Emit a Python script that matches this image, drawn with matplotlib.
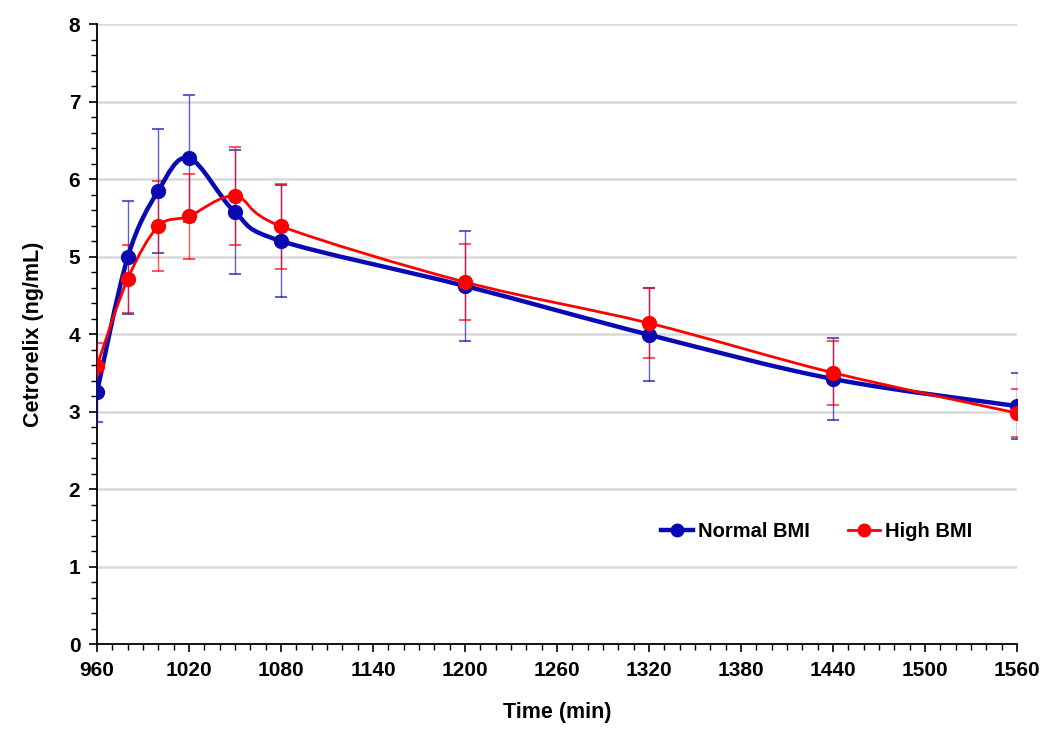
import numpy as np
import matplotlib
matplotlib.use("Agg")
import matplotlib.pyplot as plt
from matplotlib.path import Path
from matplotlib.patches import PathPatch
from matplotlib.lines import Line2D
from matplotlib.ticker import MultipleLocator

plt.rcParams['font.family'] = ['Liberation Sans', 'DejaVu Sans']

time = [960, 980, 1000, 1020, 1050, 1080, 1200, 1320, 1440, 1560]
normal_bmi = [3.25, 4.99, 5.85, 6.27, 5.57, 5.20, 4.62, 3.99, 3.42, 3.07]
normal_err = [0.39, 0.73, 0.80, 0.82, 0.80, 0.72, 0.71, 0.60, 0.53, 0.43]
high_bmi = [3.59, 4.71, 5.39, 5.52, 5.78, 5.39, 4.67, 4.14, 3.50, 2.98]
high_err = [0.29, 0.44, 0.58, 0.55, 0.63, 0.55, 0.49, 0.45, 0.41, 0.31]

BLUE = '#0a0ab4'
RED = '#ff0000'


def smooth_path(x, y):
    # Catmull-Rom as cubic Bezier segments (like Excel's "smoothed line")
    p = np.column_stack([x, y]).astype(float)
    verts = [p[0]]
    codes = [Path.MOVETO]
    n = len(p)
    for i in range(n - 1):
        p0 = p[i - 1] if i > 0 else p[i]
        p1, p2 = p[i], p[i + 1]
        p3 = p[i + 2] if i + 2 < n else p[i + 1]
        c1 = p1 + (p2 - p0) / 6.0
        c2 = p2 - (p3 - p1) / 6.0
        verts += [c1, c2, p2]
        codes += [Path.CURVE4] * 3
    return Path(verts, codes)


fig = plt.figure(figsize=(10.5, 7.3), dpi=100)
ax = fig.add_axes([0.0924, 0.1178, 0.8762, 0.8493])

series = [(normal_bmi, normal_err, BLUE, 3.2, 'Normal BMI'),
          (high_bmi, high_err, RED, 2.0, 'High BMI')]
handles = []
for vals, err, col, lw, lab in series:
    ax.errorbar(time, vals, yerr=err, fmt='none', ecolor=col, elinewidth=1.0,
                capsize=4, capthick=1.5, alpha=0.65, zorder=3)
    ax.add_patch(PathPatch(smooth_path(time, vals), facecolor='none',
                           edgecolor=col, lw=lw, zorder=4))
    ax.plot(time, vals, 'o', color=col, markersize=10, zorder=5)
    handles.append(Line2D([], [], color=col, lw=lw, marker='o',
                          markersize=9, label=lab))

ax.set_xlim(960, 1560)
ax.set_ylim(0, 8)
ax.xaxis.set_major_locator(MultipleLocator(60))
ax.xaxis.set_minor_locator(MultipleLocator(10))
ax.yaxis.set_major_locator(MultipleLocator(1))
ax.yaxis.set_minor_locator(MultipleLocator(0.2))
ax.grid(axis='y', color='#d9d9d9', lw=1.8, zorder=0)
ax.set_axisbelow(True)

for s in ['top', 'right']:
    ax.spines[s].set_visible(False)
for s in ['left', 'bottom']:
    ax.spines[s].set_linewidth(1.3)

ax.tick_params(which='major', direction='out', length=6, width=1.2,
               labelsize=15, pad=6)
ax.tick_params(which='minor', direction='out', length=4, width=1.0)
for lbl in ax.get_xticklabels() + ax.get_yticklabels():
    lbl.set_fontweight('bold')

ax.set_xlabel('Time (min)', fontsize=15.5, fontweight='bold', labelpad=16)
ax.set_ylabel('Cetrorelix (ng/mL)', fontsize=15.5, fontweight='bold', labelpad=18)

ax.legend(handles=handles, loc='center', bbox_to_anchor=(0.782, 0.182),
          ncol=2, frameon=False, handlelength=1.6, handletextpad=0.25,
          columnspacing=1.9, prop={'weight': 'bold', 'size': 14.5})

fig.savefig('out.png', dpi=100)
